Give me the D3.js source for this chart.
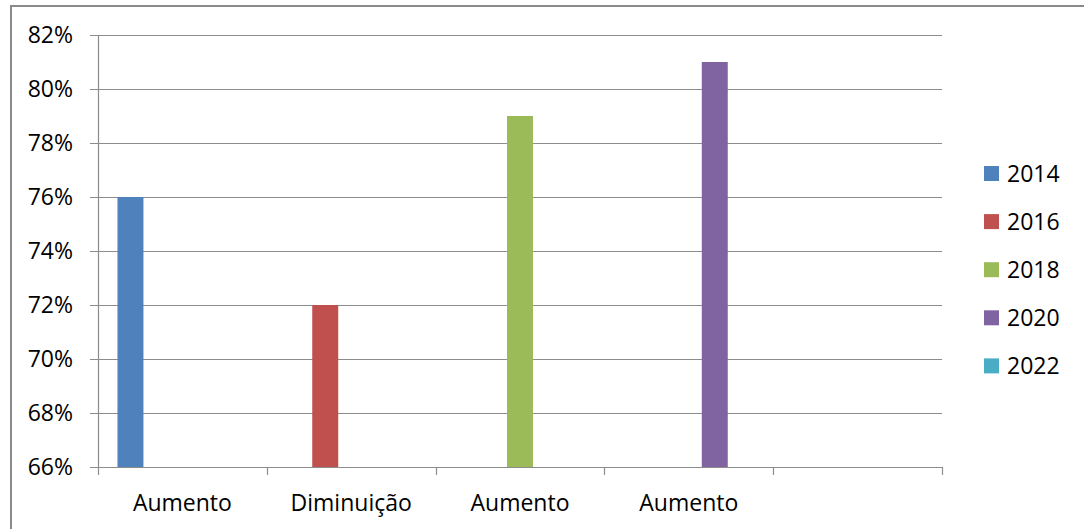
<!DOCTYPE html>
<html>
<head>
<meta charset="utf-8">
<script src="https://cdn.jsdelivr.net/npm/d3@7"></script>
<style>
    body { margin: 0; background: #fff; }
    text { font-family: 'Open Sans', sans-serif; font-size: 23px; fill: #000; }
</style>
</head>
<body>
<script>
// data
const categories = ['Aumento', 'Diminuição', 'Aumento', 'Aumento', '']
const years = ['2014', '2016', '2018', '2020', '2022']
const colors = ['#4f81bd', '#c0504d', '#9bbb59', '#8064a2', '#4bacc6']
// one value per category, belongs to the series with the same index
const values = [0.76, 0.72, 0.79, 0.81, null]
const yTicks = [0.66, 0.68, 0.70, 0.72, 0.74, 0.76, 0.78, 0.80, 0.82]

const width = 1084
const height = 529
const plot = {left: 98, right: 942, top: 35, bottom: 467}
const gridColor = '#8c8c8c'

const svg = d3.select('body').append('svg')
    .attr('width', width)
    .attr('height', height)

// outer frame
svg.append('rect')
    .attr('x', 11)
    .attr('y', 6)
    .attr('width', width)
    .attr('height', height)
    .attr('fill', 'none')
    .attr('stroke', '#8a8a8a')
    .attr('stroke-width', 2)

// scales
const catIdx = d3.range(categories.length)
const x0 = d3.scaleBand()
    .domain(catIdx)
    .range([plot.left, plot.right])

const x1 = d3.scaleBand()
    .domain(years)
    .range([0, x0.bandwidth()])
    .paddingInner(0)
    .paddingOuter(0.75)

const y = d3.scaleLinear()
    .domain([0.66, 0.82])
    .range([plot.bottom, plot.top])

// gridlines
svg.append('g')
    .selectAll('line')
    .data(yTicks)
    .join('line')
    .attr('x1', plot.left - 8)
    .attr('x2', plot.right)
    .attr('y1', d => Math.round(y(d)) + 0.5)
    .attr('y2', d => Math.round(y(d)) + 0.5)
    .attr('stroke', gridColor)
    .attr('stroke-width', 1.2)

// y axis labels
svg.append('g')
    .selectAll('text')
    .data(yTicks)
    .join('text')
    .attr('x', 73)
    .attr('y', d => y(d))
    .attr('dy', '0.36em')
    .attr('text-anchor', 'end')
    .text(d => d3.format('.0%')(d))

// bars
svg.append('g')
    .selectAll('rect')
    .data(catIdx.filter(i => values[i] != null))
    .join('rect')
    .attr('x', i => x0(i) + x1(years[i]))
    .attr('y', i => y(values[i]))
    .attr('width', x1.bandwidth())
    .attr('height', i => y(0.66) - y(values[i]))
    .attr('fill', i => colors[i])

// axes lines
svg.append('line')
    .attr('x1', plot.left + 0.5)
    .attr('x2', plot.left + 0.5)
    .attr('y1', plot.top)
    .attr('y2', plot.bottom)
    .attr('stroke', gridColor)
    .attr('stroke-width', 1.2)

const xAxis = d3.axisBottom(x0)
    .tickSize(0)
    .tickFormat(i => categories[i])
const gx = svg.append('g')
    .attr('transform', `translate(0,${Math.round(y(0.66)) + 0.5})`)
    .call(xAxis)
gx.select('.domain').remove()
gx.selectAll('text')
    .attr('y', 0)
    .attr('dy', 43)
    .attr('font-size', null)
    .attr('font-family', null)
    .attr('fill', null)

// category boundary ticks
svg.append('g')
    .selectAll('line')
    .data(d3.range(categories.length + 1))
    .join('line')
    .attr('x1', i => Math.round(plot.left + i * x0.step()) + 0.5)
    .attr('x2', i => Math.round(plot.left + i * x0.step()) + 0.5)
    .attr('y1', Math.round(y(0.66)))
    .attr('y2', Math.round(y(0.66)) + 8)
    .attr('stroke', gridColor)
    .attr('stroke-width', 1.2)

// legend
const legend = svg.append('g')
    .selectAll('g')
    .data(years)
    .join('g')
    .attr('transform', (d, i) => `translate(984,${173.5 + i * 48.1})`)

legend.append('rect')
    .attr('x', 0)
    .attr('y', -7.5)
    .attr('width', 15)
    .attr('height', 15)
    .attr('fill', (d, i) => colors[i])

legend.append('text')
    .attr('x', 23)
    .attr('y', 0)
    .attr('dy', '0.36em')
    .text(d => d)
</script>
</body>
</html>
